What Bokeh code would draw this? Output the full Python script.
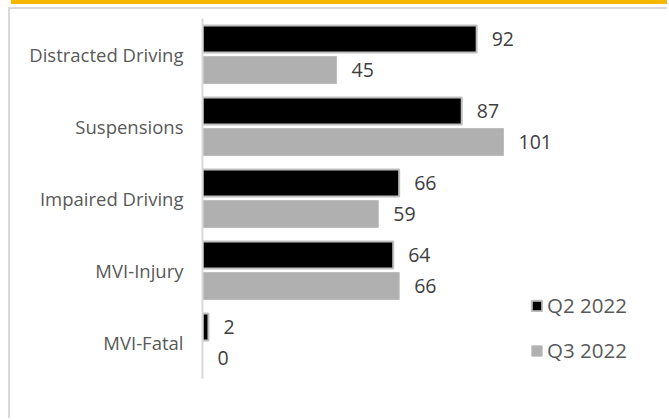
from bokeh.plotting import figure
from bokeh.layouts import column
from bokeh.models import ColumnDataSource, FactorRange, Range1d, Legend, LegendItem, Div
from bokeh.transform import dodge
from bokeh.core.properties import value
from bokeh.embed import file_html
from bokeh.resources import INLINE

categories = ["Distracted Driving", "Suspensions", "Impaired Driving", "MVI-Injury", "MVI-Fatal"]
q2_2022 = [92, 87, 66, 64, 2]
q3_2022 = [45, 101, 59, 66, 0]
series_names = ["Q2 2022", "Q3 2022"]

src = ColumnDataSource(dict(
    cat=categories,
    q2=q2_2022,
    q3=q3_2022,
    q2_txt=[str(v) for v in q2_2022],
    q3_txt=[str(v) for v in q3_2022],
))

FONT = "Open Sans"

p = figure(
    width=659, height=411,
    y_range=FactorRange(*reversed(categories)),
    x_range=Range1d(0, 150),
    output_backend="svg", toolbar_location=None,
    min_border_left=194, min_border_right=18, min_border_top=11, min_border_bottom=40,
)
p.margin = (3, 0, 0, 8)
p.styles = {"box-shadow": "inset 2px 2px 0px 0px #d9d9d9"}
p.border_fill_color = None
p.background_fill_color = None
p.outline_line_color = None
p.xgrid.visible = False
p.ygrid.visible = False
p.xaxis.visible = False
p.y_range.range_padding = 0

yax = p.yaxis[0]
yax.axis_line_color = "#d9d9d9"
yax.axis_line_width = 2
yax.major_tick_line_color = None
yax.minor_tick_line_color = None
yax.major_tick_out = 0
yax.major_tick_in = 0
yax.major_label_text_font = FONT
yax.major_label_text_font_size = "18.5px"
yax.major_label_text_color = "#595959"
yax.major_label_standoff = 19

r2 = p.hbar(y=dodge("cat", 0.215, range=p.y_range), right="q2", left=0, height=0.375,
            source=src, fill_color="#000000", line_color="#bfbfbf", line_width=2)
r3 = p.hbar(y=dodge("cat", -0.215, range=p.y_range), right="q3", left=0, height=0.375,
            source=src, fill_color="#b0b0b0", line_color="#bdbdbd", line_width=1)

p.text(x="q2", y=dodge("cat", 0.215, range=p.y_range), text="q2_txt", source=src,
       x_offset=15, text_align="left", text_baseline="middle",
       text_font=value(FONT), text_font_size="19.5px", text_color="#404040")
p.text(x="q3", y=dodge("cat", -0.215, range=p.y_range), text="q3_txt", source=src,
       x_offset=15, text_align="left", text_baseline="middle",
       text_font=value(FONT), text_font_size="19.5px", text_color="#404040")

legend = Legend(items=[LegendItem(label=series_names[0], renderers=[r2]),
                       LegendItem(label=series_names[1], renderers=[r3])],
                location=(328, 14))
legend.border_line_color = None
legend.background_fill_alpha = 0
legend.padding = 0
legend.margin = 0
legend.spacing = 17
legend.glyph_width = 13
legend.glyph_height = 13
legend.label_height = 28
legend.label_standoff = 4
legend.label_text_font = FONT
legend.label_text_font_size = "20.5px"
legend.label_text_color = "#595959"
p.add_layout(legend, "center")

band = Div(text="", width=656, height=4, margin=(0, 0, 0, 11),
           styles={"background-color": "#f5b700"})

layout = column(band, p, spacing=0)

open("out.html", "w").write(file_html(layout, INLINE))
